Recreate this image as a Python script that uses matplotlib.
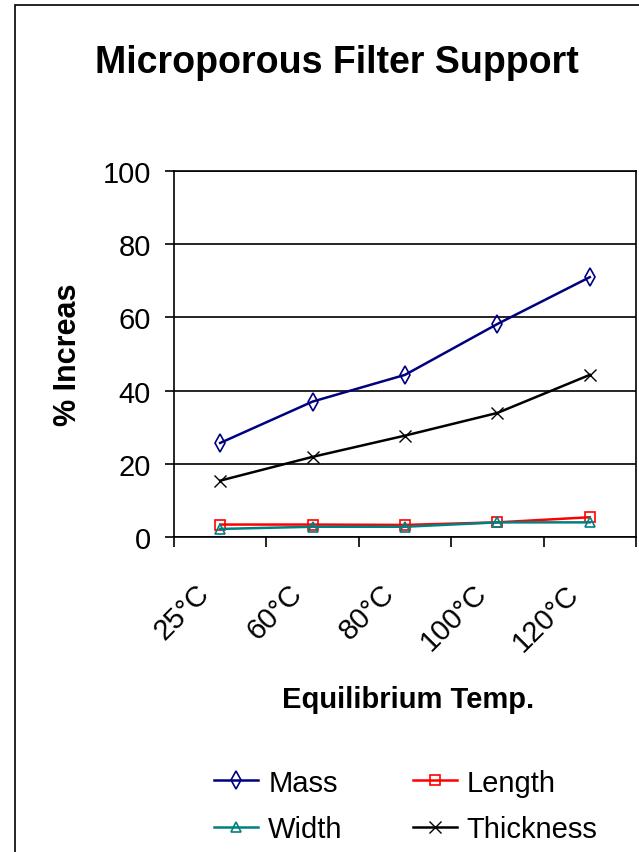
import numpy as np
import matplotlib.pyplot as plt
from matplotlib.patches import Rectangle
from matplotlib.transforms import ScaledTranslation

plt.rcParams['font.family'] = ['Liberation Sans', 'DejaVu Sans']

# data
temps = ['25°C', '60°C', '80°C', '100°C', '120°C']
mass = [25.7, 37.0, 44.3, 58.2, 71.0]
length = [3.4, 3.4, 3.3, 4.0, 5.4]
width = [2.2, 2.8, 2.8, 4.0, 4.0]
thickness = [15.4, 21.9, 27.7, 33.9, 44.3]

x = np.arange(len(temps))

fig = plt.figure(figsize=(6.39, 8.53), dpi=100)
# outer chart border
fig.patches.append(Rectangle((15/639, -0.1), 1.2, 1 - 6/853 + 0.1, transform=fig.transFigure,
                             fill=False, edgecolor='black', linewidth=1.2))

ax = fig.add_axes([174/639, 1 - 538/853, 462/639, 366/853])

l_mass, = ax.plot(x, mass, color='#000080', lw=1.8, marker='d', ms=9, mfc='none', mec='#000080', mew=1.2, label='Mass')
l_len, = ax.plot(x, length, color='#FF0000', lw=1.8, marker='s', ms=7, mfc='none', mec='#FF0000', mew=1.2, label='Length')
l_wid, = ax.plot(x, width, color='#008080', lw=1.8, marker='^', ms=7, mfc='none', mec='#008080', mew=1.2, label='Width')
l_thk, = ax.plot(x, thickness, color='black', lw=1.8, marker='x', ms=9, mew=1.0, label='Thickness')

ax.set_xlim(-0.5, 4.5)
ax.set_ylim(0, 100)
ax.set_yticks([0, 20, 40, 60, 80, 100])
ax.yaxis.grid(True, color='black', lw=1.2)
ax.set_axisbelow(True)
ax.tick_params(axis='y', labelsize=21, length=6.5, width=1.2, direction='out', pad=10)

ax.set_xticks(x)
ax.set_xticklabels(temps, rotation=45, ha='right', va='top', rotation_mode='anchor', fontsize=21)
ax.set_xticks(np.arange(-0.5, 5, 1), minor=True)
ax.tick_params(axis='x', which='major', length=0, pad=30)
ax.tick_params(axis='x', which='minor', length=7.5, width=1.2, direction='out')
# nudge the slanted labels left so they end just left of each category
shift = ScaledTranslation(-0.25, 0, fig.dpi_scale_trans)
for lab in ax.get_xticklabels():
    lab.set_transform(lab.get_transform() + shift)

for s in ax.spines.values():
    s.set_linewidth(1.2)

ax.set_ylabel('% Increas', fontsize=22, fontweight='bold', labelpad=14)
fig.text(408/639, 1 - 700/853, 'Equilibrium Temp.', fontsize=21, fontweight='bold',
         ha='center', va='center')
fig.text(337/639, 1 - 63/853, 'Microporous Filter Support', fontsize=27, fontweight='bold',
         ha='center', va='center')

# row-wise order like the original: Mass, Length / Width, Thickness
fig.legend([l_mass, l_wid, l_len, l_thk], ['Mass', 'Width', 'Length', 'Thickness'],
           loc='center', bbox_to_anchor=(406/639, 1 - 807/853), ncol=2, frameon=False,
           fontsize=21, handlelength=1.5, columnspacing=2.4, labelspacing=0.65, handletextpad=0.35)

fig.savefig('out.png', dpi=100)
